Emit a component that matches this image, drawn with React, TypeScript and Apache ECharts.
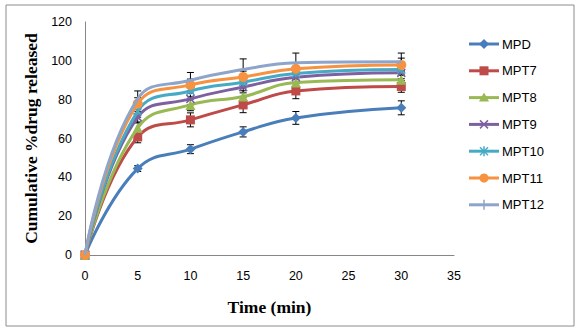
import React, { useEffect, useRef } from "react";
import * as echarts from "echarts";

const times = [0, 5, 10, 15, 20, 30];
const seriesNames = ["MPD", "MPT7", "MPT8", "MPT9", "MPT10", "MPT11", "MPT12"];
const mpd = [0, 44.5, 54.5, 63.4, 70.6, 75.8];
const mpt7 = [0, 60.8, 69.6, 77.3, 84.5, 86.8];
const mpt8 = [0, 65.5, 77.3, 81.6, 88.8, 90.2];
const mpt9 = [0, 71, 80.4, 86.5, 91.5, 93.8];
const mpt10 = [0, 74, 84.5, 89, 93.5, 95.5];
const mpt11 = [0, 78, 87.6, 91.7, 95.9, 97.9];
const mpt12 = [0, 80.5, 90, 95.5, 99, 99.5];
const errMpd = [0, 1.5, 2.3, 2.6, 3.3, 3.6];
const errMpt7 = [0, 3, 3.6, 4, 4, 3];
const errMpt8 = [0, 3, 3, 3, 3, 3];
const errMpt9 = [0, 3, 3, 3, 3, 3];
const errMpt10 = [0, 3, 3, 3, 3, 3];
const errMpt11 = [0, 3, 3, 3, 3, 3.5];
const errMpt12 = [0, 4, 4, 5.5, 5, 4.5];
const xTicks = [0, 5, 10, 15, 20, 25, 30, 35];
const yTicks = [0, 20, 40, 60, 80, 100, 120];

const values = [mpd, mpt7, mpt8, mpt9, mpt10, mpt11, mpt12];
const errors = [errMpd, errMpt7, errMpt8, errMpt9, errMpt10, errMpt11, errMpt12];
const colors = ["#4A7EBB", "#BE4B48", "#98B954", "#7D60A0", "#46AAC5", "#F69240", "#8EA5CB"];
const symbols = [
  "diamond",
  "rect",
  "triangle",
  "path://M0,0L10,10M10,0L0,10",
  "path://M0,0L10,10M10,0L0,10M5,0L5,10",
  "circle",
  "path://M5,0L5,10",
];
const symbolSizes = [10, 9, 10, 8, 8, 10, 10];
const strokeSymbols = [false, false, false, true, true, false, true];

function legendMarker(i: number, cx: number, cy: number): any[] {
  const c = colors[i];
  const st = { stroke: c, lineWidth: 1.5 };
  switch (i) {
    case 0:
      return [{ type: "polygon", shape: { points: [[cx, cy - 5], [cx + 5, cy], [cx, cy + 5], [cx - 5, cy]] }, style: { fill: c } }];
    case 1:
      return [{ type: "rect", shape: { x: cx - 4.5, y: cy - 4.5, width: 9, height: 9 }, style: { fill: c } }];
    case 2:
      return [{ type: "polygon", shape: { points: [[cx, cy - 5], [cx + 5, cy + 4], [cx - 5, cy + 4]] }, style: { fill: c } }];
    case 3:
      return [
        { type: "line", shape: { x1: cx - 4, y1: cy - 4, x2: cx + 4, y2: cy + 4 }, style: st },
        { type: "line", shape: { x1: cx + 4, y1: cy - 4, x2: cx - 4, y2: cy + 4 }, style: st },
      ];
    case 4:
      return [
        { type: "line", shape: { x1: cx - 4, y1: cy - 4, x2: cx + 4, y2: cy + 4 }, style: st },
        { type: "line", shape: { x1: cx + 4, y1: cy - 4, x2: cx - 4, y2: cy + 4 }, style: st },
        { type: "line", shape: { x1: cx, y1: cy - 5, x2: cx, y2: cy + 5 }, style: st },
      ];
    case 5:
      return [{ type: "circle", shape: { cx, cy, r: 4.5 }, style: { fill: c } }];
    default:
      return [{ type: "line", shape: { x1: cx, y1: cy - 5, x2: cx, y2: cy + 5 }, style: st }];
  }
}

export default function App() {
  const ref = useRef<HTMLDivElement>(null);
  useEffect(() => {
    document.body.style.margin = "0";
    if (!ref.current) return;
    const chart = echarts.init(ref.current, null, { renderer: "svg" });
    const lineSeries = seriesNames.map((name, i) => ({
      name,
      type: "line",
      data: times.map((t, j) => [t, values[i][j]]),
      smooth: 0.45,
      symbol: symbols[i],
      symbolSize: symbolSizes[i],
      showAllSymbol: true,
      z: 3 + i,
      lineStyle: { color: colors[i], width: 3 },
      itemStyle: strokeSymbols[i]
        ? { color: colors[i], borderColor: colors[i], borderWidth: 1.5 }
        : { color: colors[i] },
      emphasis: { disabled: true },
    }));
    const errorSeries = seriesNames.map((name, i) => ({
      name: name + "-err",
      type: "custom",
      z: 2,
      silent: true,
      data: times.map((t, j) => [t, values[i][j] - errors[i][j], values[i][j] + errors[i][j]]),
      renderItem: (params: any, api: any) => {
        const x = api.value(0);
        const lo = api.coord([x, api.value(1)]);
        const hi = api.coord([x, api.value(2)]);
        if (Math.abs(lo[1] - hi[1]) < 0.5) return { type: "group", children: [] };
        const half = 3.5;
        const style = { stroke: "#000", lineWidth: 1 };
        return {
          type: "group",
          children: [
            { type: "line", shape: { x1: lo[0], y1: lo[1], x2: hi[0], y2: hi[1] }, style },
            { type: "line", shape: { x1: lo[0] - half, y1: lo[1], x2: lo[0] + half, y2: lo[1] }, style },
            { type: "line", shape: { x1: hi[0] - half, y1: hi[1], x2: hi[0] + half, y2: hi[1] }, style },
          ],
        };
      },
    }));
    const legendGraphics: any[] = [];
    seriesNames.forEach((name, i) => {
      const cy = 44 + i * 26.8;
      legendGraphics.push({
        type: "line",
        shape: { x1: 469, y1: cy, x2: 499, y2: cy },
        style: { stroke: colors[i], lineWidth: 3 },
        silent: true,
      });
      legendMarker(i, 484, cy).forEach((m) => legendGraphics.push({ ...m, silent: true }));
      legendGraphics.push({
        type: "text",
        x: 502,
        y: cy,
        style: { text: name, fill: "#000", font: "13px 'Liberation Sans'", verticalAlign: "middle", align: "left" },
        silent: true,
      });
    });
    chart.setOption({
      animation: false,
      textStyle: { fontFamily: "Liberation Sans" },
      grid: { left: 85, right: 126, top: 22, bottom: 77 },
      xAxis: {
        type: "value",
        min: xTicks[0],
        max: xTicks[xTicks.length - 1],
        interval: 5,
        name: "Time (min)",
        nameLocation: "middle",
        nameGap: 43,
        nameTextStyle: { fontFamily: "Liberation Serif", fontWeight: "bold", fontSize: 17.5, color: "#000" },
        axisLine: { show: true, lineStyle: { color: "#868686", width: 1 } },
        axisTick: { show: false },
        splitLine: { show: false },
        axisLabel: { color: "#000", fontSize: 12.5, margin: 14 },
      },
      yAxis: {
        type: "value",
        min: yTicks[0],
        max: yTicks[yTicks.length - 1],
        interval: 20,
        name: "Cumulative %drug released",
        nameLocation: "middle",
        nameGap: 40,
        nameRotate: 90,
        nameTextStyle: { fontFamily: "Liberation Serif", fontWeight: "bold", fontSize: 17.5, color: "#000" },
        axisLine: { show: true, lineStyle: { color: "#868686", width: 1 } },
        axisTick: { show: false },
        splitLine: { show: false },
        axisLabel: { color: "#000", fontSize: 12.5, margin: 13 },
      },
      graphic: [
        {
          type: "rect",
          shape: { x: 6, y: 5, width: 568, height: 321 },
          style: { fill: "none", stroke: "#8c8c8c", lineWidth: 1 },
          silent: true,
        },
        ...legendGraphics,
      ],
      series: [...errorSeries, ...lineSeries],
    });
    return () => chart.dispose();
  }, []);
  return <div ref={ref} style={{ width: 580, height: 332 }} />;
}
